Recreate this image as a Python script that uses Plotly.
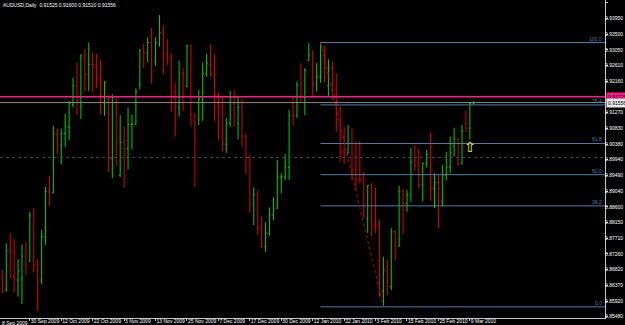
import plotly.graph_objects as go
import pandas as pd

# ---------------- data ----------------
dates = [d for d in pd.bdate_range("2009-09-21", "2010-03-10")
         if d.strftime("%Y-%m-%d") not in ("2009-12-25", "2010-01-01")]

opens = [.8657, .8624, .8734, .8661, .8652, .8657, .8720, .8706, .8834, .8695,
         .8652, .8775, .8904, .8901, .9066, .9035, .9068, .9085, .9150, .9203,
         .9146, .9288, .9236, .9264, .9262, .9222, .9155, .9163, .8997, .9155,
         .8949, .9043, .9025, .9093, .9094, .9207, .9302, .9296, .9326, .9271,
         .9322, .9354, .9293, .9284, .9188, .9142, .9240, .9201, .9317, .9122,
         .9111, .9166, .9236, .9264, .9231, .9160, .9146, .9038, .9097, .9169,
         .9097, .9142, .9061, .8999, .8868, .8895, .8799, .8747, .8784, .8837,
         .8856, .8944, .8945, .8972, .9120, .9117, .9205, .9168, .9275, .9291,
         .9208, .9229, .9314, .9205, .9253, .9191, .9140, .9016, .9012, .9040,
         .8964, .8938, .8936, .8827, .8920, .8808, .8806, .8620, .8678, .8633,
         .8789, .8749, .8903, .8870, .8893, .8987, .8990, .8922, .8983, .9007,
         .8912, .8929, .8874, .8950, .8972, .9032, .9052, .8983, .9094, .9083,
         .91525]
highs = [.8680, .8756, .8786, .8768, .8711, .8753, .8760, .8845, .8857, .8711,
         .8794, .8917, .8948, .9089, .9081, .9081, .9123, .9160, .9226, .9269,
         .9293, .9308, .9326, .9297, .9293, .9276, .9217, .9177, .9179, .9169,
         .9120, .9089, .9142, .9122, .9196, .9306, .9322, .9341, .9367, .9341,
         .9404, .9375, .9335, .9295, .9212, .9274, .9253, .9319, .9320, .9124,
         .9191, .9269, .9294, .9321, .9293, .9186, .9172, .9111, .9188, .9191,
         .9172, .9165, .9066, .9007, .8915, .8905, .8832, .8816, .8858, .8887,
         .8993, .8955, .9010, .9135, .9172, .9215, .9267, .9253, .9324, .9305,
         .9267, .9326, .9316, .9278, .9272, .9239, .9144, .9087, .9092, .9083,
         .9045, .9047, .8959, .8922, .8927, .8915, .8824, .8718, .8709, .8799,
         .8792, .8919, .8910, .8907, .9026, .9035, .9024, .8985, .9021, .9070,
         .8955, .8950, .8978, .9016, .9059, .9084, .9056, .9092, .9132, .9157,
         .91600]
lows = [.8614, .8619, .8657, .8616, .8605, .8584, .8666, .8704, .8674, .8565,
        .8641, .8751, .8863, .8898, .9010, .8980, .9030, .9049, .9142, .9120,
        .9109, .9188, .9188, .9184, .9196, .9122, .9118, .8959, .8941, .8976,
        .8945, .8914, .8966, .9023, .9092, .9193, .9253, .9270, .9210, .9260,
        .9314, .9236, .9262, .9130, .9059, .9116, .9130, .9199, .9090, .8917,
        .9092, .9104, .9229, .9229, .9104, .9049, .9016, .9013, .9087, .9087,
        .9051, .9030, .8953, .8843, .8808, .8780, .8742, .8732, .8778, .8822,
        .8854, .8898, .8936, .8936, .9090, .9113, .9158, .9120, .9274, .9168,
        .9187, .9212, .9212, .9172, .9163, .9073, .8988, .8981, .9010, .8934,
        .8908, .8927, .8830, .8786, .8777, .8786, .8605, .8576, .8610, .8624,
        .8707, .8746, .8783, .8846, .8874, .8962, .8912, .8876, .8971, .8877,
        .8856, .8799, .8860, .8934, .8955, .9004, .8978, .8980, .9073, .9052,
        .91510]
closes = [.8619, .8734, .8661, .8654, .8678, .8720, .8695, .8834, .8695, .8646,
          .8775, .8903, .8901, .9066, .9035, .9068, .9087, .9154, .9203, .9163,
          .9288, .9236, .9264, .9262, .9222, .9215, .9212, .8999, .9155, .9043,
          .9043, .9025, .9094, .9095, .9186, .9304, .9296, .9326, .9236, .9326,
          .9354, .9293, .9284, .9188, .9142, .9239, .9236, .9317, .9122, .9057,
          .9166, .9239, .9268, .9236, .9142, .9146, .9038, .9097, .9169, .9125,
          .9142, .9061, .8999, .8868, .8895, .8799, .8747, .8785, .8837, .8856,
          .8945, .8946, .8972, .9120, .9117, .9205, .9174, .9248, .9291, .9208,
          .9229, .9314, .9267, .9253, .9191, .9158, .9016, .9007, .9040, .8964,
          .8938, .8936, .8834, .8920, .8808, .8806, .8615, .8680, .8633, .8789,
          .8749, .8903, .8870, .8893, .8987, .8978, .8922, .8983, .9007, .8912,
          .8929, .8874, .8950, .8972, .9012, .9052, .8983, .9075, .9083, .9153,
          .91556]

tick_dates = ["2009-09-30", "2009-10-12", "2009-10-22", "2009-11-03", "2009-11-13",
              "2009-11-25", "2009-12-07", "2009-12-17", "2009-12-30", "2010-01-12",
              "2010-01-22", "2010-02-03", "2010-02-15", "2010-02-25", "2010-03-09"]
tick_labels = ["30 Sep 2009", "12 Oct 2009", "22 Oct 2009", "3 Nov 2009", "13 Nov 2009",
               "25 Nov 2009", "7 Dec 2009", "17 Dec 2009", "30 Dec 2009", "12 Jan 2010",
               "22 Jan 2010", "3 Feb 2010", "15 Feb 2010", "25 Feb 2010", "9 Mar 2010"]

price_ticks = [0.94390, 0.93950, 0.93500, 0.93050, 0.92610, 0.92160, 0.91270, 0.90830,
               0.90380, 0.89940, 0.89490, 0.89040, 0.88600, 0.88150, 0.87710, 0.87260,
               0.86820, 0.86370, 0.85920, 0.85480]

fib_ratios = [1.0, 0.764, 0.618, 0.5, 0.382, 0.0]
fib_labels = ["100.0", "76.4", "61.8", "50.0", "38.2", "0.0"]
fib_start = "2010-01-01"          # swing searched from here on
hline_level = 0.91725             # pink horizontal line
dotted_level = 0.90000            # dotted horizontal line
arrow_date = "2010-03-09"
arrow_level = 0.9030
title_text = "AUDUSD,Daily  0.91525 0.91600 0.91510 0.91556"

y_range = [0.85443, 0.94467]
x_range = [-0.59, 153.4]

# ---------------- figure ----------------
date_str = [d.strftime("%Y-%m-%d") for d in dates]
idx = list(range(len(dates)))
tickvals = [date_str.index(t) for t in tick_dates]

FONT = "Liberation Sans, Arial, sans-serif"
FS = 5
UP, DOWN = "#00d000", "#e00000"
FIB = "#4a7fb0"

fig = go.Figure()
fig.add_trace(go.Ohlc(x=idx, open=opens, high=highs, low=lows, close=closes,
                      increasing=dict(line=dict(color=UP, width=1)),
                      decreasing=dict(line=dict(color=DOWN, width=1)),
                      tickwidth=0.3, hoverinfo="skip", showlegend=False))

# fibonacci swing from data
s = date_str.index([d for d in date_str if d >= fib_start][0])
sub_h = highs[s:]
sub_l = lows[s:]
i_hi = s + sub_h.index(max(sub_h))
i_lo = s + sub_l.index(min(sub_l))
fh, fl = highs[i_hi], lows[i_lo]

for r, lab in zip(fib_ratios, fib_labels):
    lv = fl + r * (fh - fl)
    fig.add_trace(go.Scatter(x=[i_hi, x_range[1]], y=[lv, lv], mode="lines",
                             line=dict(color=FIB, width=1), hoverinfo="skip",
                             showlegend=False))
    fig.add_annotation(x=1, xref="paper", y=lv, yref="y", text=lab, showarrow=False,
                       xanchor="right", yanchor="bottom", xshift=-1, yshift=-1,
                       font=dict(family=FONT, size=FS, color=FIB))

fig.add_trace(go.Scatter(x=[i_hi, i_lo], y=[fh, fl], mode="lines",
                         line=dict(color="#c00000", width=1, dash="dot"),
                         hoverinfo="skip", showlegend=False))

# horizontal lines
fig.add_shape(type="line", xref="paper", x0=0, x1=1, yref="y", y0=dotted_level, y1=dotted_level,
              line=dict(color="#4a4a4a", width=1, dash="dot"))
fig.add_shape(type="line", xref="paper", x0=0, x1=1, yref="y", y0=closes[-1], y1=closes[-1],
              line=dict(color="#8c8c8c", width=1))
fig.add_shape(type="line", xref="paper", x0=0, x1=1, yref="y", y0=hline_level, y1=hline_level,
              line=dict(color="#ff1a8c", width=1.5))

# price boxes on the right axis
fig.add_annotation(x=1, xref="paper", y=hline_level, yref="y", text=f"{hline_level:.5f}",
                   showarrow=False, xanchor="left", xshift=1, bgcolor="#ff1a8c",
                   borderpad=1, font=dict(family=FONT, size=FS, color="#000000"))
fig.add_annotation(x=1, xref="paper", y=closes[-1], yref="y", text=f"{closes[-1]:.5f}",
                   showarrow=False, xanchor="left", xshift=1, bgcolor="#e8e8e8",
                   borderpad=1, font=dict(family=FONT, size=FS, color="#000000"))

# yellow arrow
fig.add_annotation(x=date_str.index(arrow_date), xref="x", y=arrow_level, yref="y",
                   text="⇧", showarrow=False,
                   font=dict(family="DejaVu Sans", size=14, color="#ffff00"))

# title
fig.add_annotation(x=0, xref="paper", y=1, yref="paper", text=title_text, showarrow=False,
                   xanchor="left", yanchor="top", xshift=1, yshift=0,
                   font=dict(family=FONT, size=FS, color="#ffffff"))
# clipped first date label at the left edge
fig.add_annotation(x=0, xref="paper", y=0, yref="paper", text="8 Sep 2009", showarrow=False,
                   xanchor="left", yanchor="top", yshift=0,
                   font=dict(family=FONT, size=FS, color="#ffffff"))

fig.update_layout(
    width=625, height=325,
    margin=dict(l=0, r=20, t=0, b=7),
    paper_bgcolor="#000000", plot_bgcolor="#000000",
    showlegend=False,
    xaxis=dict(range=x_range, showgrid=False, zeroline=False, rangeslider=dict(visible=False),
               tickmode="array", tickvals=tickvals, ticktext=tick_labels,
               ticks="outside", ticklen=2, tickcolor="#c8c8c8", tickangle=0,
               ticklabelposition="outside right", ticklabelstandoff=-2, automargin=False,
               showline=True, linecolor="#c8c8c8", linewidth=1,
               tickfont=dict(family=FONT, size=FS, color="#ffffff")),
    yaxis=dict(range=y_range, side="right", showgrid=False, zeroline=False,
               tickmode="array", tickvals=price_ticks, automargin=False,
               ticktext=[f"{v:.5f}" for v in price_ticks],
               ticks="outside", ticklen=2, tickcolor="#c8c8c8",
               ticklabelstandoff=-4,
               showline=True, linecolor="#c8c8c8", linewidth=1,
               tickfont=dict(family=FONT, size=FS, color="#ffffff")),
)

fig.write_html("out.html")
